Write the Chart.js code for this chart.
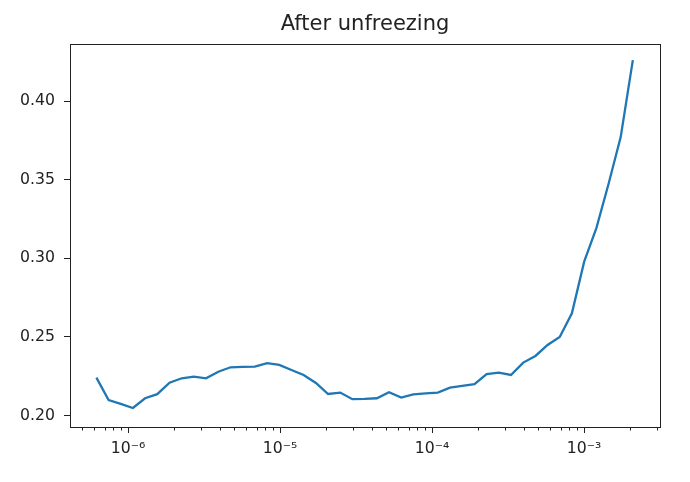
<!DOCTYPE html>
<html lang="en">
<head>
    <meta charset="UTF-8">
    <title>After unfreezing</title>
    <style>
        body {
            margin: 0;
            background-color: white;
        }
        #chart {
            width: 690px;
            height: 482px;
        }
    </style>
    <script src="https://cdn.jsdelivr.net/npm/chart.js"></script>
</head>
<body>
    <div id="chart">
        <canvas id="lrChart" width="690" height="482"></canvas>
    </div>

    <script>
        // learning rates (x, log scale) and loss values
        const learningRates = [
            6.19e-7, 7.45e-7, 8.95e-7, 1.076e-6, 1.294e-6, 1.556e-6, 1.875e-6, 2.254e-6, 2.71e-6, 3.258e-6,
            3.926e-6, 4.72e-6, 5.675e-6, 6.823e-6, 8.22e-6, 9.88e-6, 1.189e-5, 1.429e-5, 1.722e-5, 2.07e-5,
            2.489e-5, 2.992e-5, 3.597e-5, 4.335e-5, 5.21e-5, 6.27e-5, 7.53e-5, 9.08e-5, 1.091e-4, 1.312e-4,
            1.578e-4, 1.901e-4, 2.286e-4, 2.748e-4, 3.304e-4, 3.981e-4, 4.786e-4, 5.754e-4, 6.918e-4, 8.318e-4,
            1.002e-3, 1.205e-3, 1.449e-3, 1.742e-3, 2.094e-3
        ];
        const losses = [
            0.2241, 0.2099, 0.2074, 0.2048, 0.2110, 0.2136, 0.2209, 0.2237, 0.2247, 0.2237,
            0.2279, 0.2307, 0.2309, 0.2311, 0.2333, 0.2322, 0.2290, 0.2258, 0.2207, 0.2137,
            0.2146, 0.2104, 0.2106, 0.2110, 0.2148, 0.2114, 0.2135, 0.2141, 0.2146, 0.2177,
            0.2188, 0.2199, 0.2263, 0.2273, 0.2258, 0.2337, 0.2379, 0.2449, 0.2500, 0.2651,
            0.2979, 0.3193, 0.3473, 0.3772, 0.4262
        ];

        const xTickValues = [1e-6, 1e-5, 1e-4, 1e-3];
        const xTickLabels = ['10\u207B\u2076', '10\u207B\u2075', '10\u207B\u2074', '10\u207B\u00B3'];
        const yTickValues = [0.20, 0.25, 0.30, 0.35, 0.40];
        const yTickLabels = ['0.20', '0.25', '0.30', '0.35', '0.40'];

        const axisColor = '#222';
        const fontFamily = 'DejaVu Sans';

        // matplotlib style frame + short minor ticks on the log axis
        const framePlugin = {
            id: 'frame',
            afterDraw(chart) {
                const ctx = chart.ctx;
                const area = chart.chartArea;
                const xScale = chart.scales.x;
                ctx.save();
                ctx.strokeStyle = axisColor;
                ctx.lineWidth = 1;
                ctx.beginPath();
                for (let k = -7; k <= -2; k++) {
                    for (let m = 2; m <= 9; m++) {
                        const v = m * Math.pow(10, k);
                        if (v < xScale.min || v > xScale.max) continue;
                        const px = Math.round(xScale.getPixelForValue(v)) + 0.5;
                        ctx.moveTo(px, area.bottom);
                        ctx.lineTo(px, area.bottom + 3.5);
                    }
                }
                ctx.stroke();
                ctx.strokeRect(Math.round(area.left) + 0.5, Math.round(area.top) + 0.5,
                    Math.round(area.right - area.left), Math.round(area.bottom - area.top));
                ctx.restore();
            }
        };

        const ctx = document.getElementById('lrChart').getContext('2d');
        const chart = new Chart(ctx, {
            type: 'line',
            data: {
                datasets: [{
                    label: 'loss',
                    data: learningRates.map((lr, i) => ({ x: lr, y: losses[i] })),
                    borderColor: '#1f77b4',
                    borderWidth: 2.3,
                    pointRadius: 0,
                    tension: 0,
                    fill: false
                }]
            },
            options: {
                responsive: false,
                animation: false,
                layout: {
                    padding: { left: 0, right: 30, top: 0, bottom: 0 }
                },
                plugins: {
                    legend: { display: false },
                    tooltip: { enabled: false },
                    title: {
                        display: true,
                        text: 'After unfreezing',
                        fullSize: false,
                        color: axisColor,
                        font: { family: fontFamily, size: 21, weight: 'normal', lineHeight: 1.2 },
                        padding: { top: 12, bottom: 7 }
                    }
                },
                scales: {
                    x: {
                        type: 'logarithmic',
                        min: 4.15e-7,
                        max: 3.16e-3,
                        afterBuildTicks: (scale) => {
                            scale.ticks = xTickValues.map(v => ({ value: v, major: true }));
                        },
                        afterFit: (scale) => { scale.height = 55; },
                        border: { display: false },
                        grid: {
                            drawOnChartArea: false,
                            drawTicks: true,
                            tickLength: 6,
                            tickColor: axisColor
                        },
                        ticks: {
                            autoSkip: false,
                            maxRotation: 0,
                            padding: 7,
                            color: axisColor,
                            font: { family: fontFamily, size: 15.7 },
                            callback: (value) => {
                                const i = xTickValues.findIndex(v => Math.abs(v - value) / v < 1e-6);
                                return i >= 0 ? xTickLabels[i] : '';
                            }
                        }
                    },
                    y: {
                        type: 'linear',
                        min: 0.1927,
                        max: 0.4363,
                        afterBuildTicks: (scale) => {
                            scale.ticks = yTickValues.map(v => ({ value: v }));
                        },
                        afterFit: (scale) => { scale.width = 70; },
                        border: { display: false },
                        grid: {
                            drawOnChartArea: false,
                            drawTicks: true,
                            tickLength: 6,
                            tickColor: axisColor
                        },
                        ticks: {
                            autoSkip: false,
                            padding: 9,
                            color: axisColor,
                            font: { family: fontFamily, size: 15.7 },
                            callback: (value) => {
                                const i = yTickValues.findIndex(v => Math.abs(v - value) < 1e-6);
                                return i >= 0 ? yTickLabels[i] : '';
                            }
                        }
                    }
                }
            },
            plugins: [framePlugin]
        });
    </script>
</body>
</html>
